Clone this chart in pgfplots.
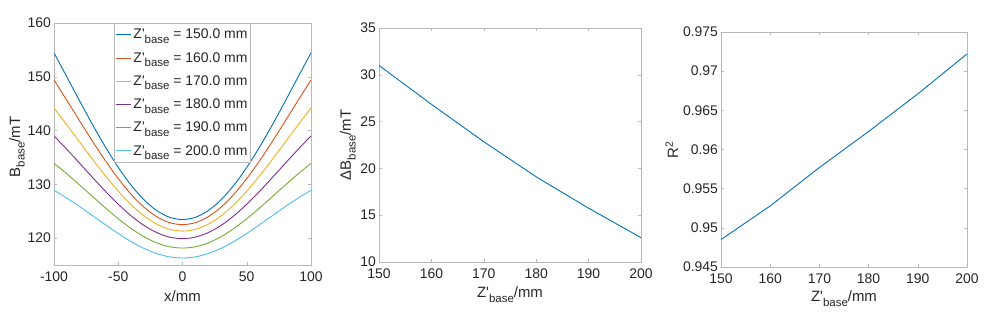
\documentclass[border=0pt]{standalone}
\usepackage{pgfplots}
\pgfplotsset{compat=1.18}
\usepackage{fontspec}
\setmainfont{Liberation Sans}
\definecolor{c1}{rgb}{0,0.447,0.741}
\definecolor{c2}{rgb}{0.85,0.325,0.098}
\definecolor{c3}{rgb}{0.929,0.694,0.125}
\definecolor{c4}{rgb}{0.494,0.184,0.556}
\definecolor{c5}{rgb}{0.466,0.674,0.188}
\definecolor{c6}{rgb}{0.301,0.745,0.933}
\definecolor{axgray}{gray}{0.72}
\definecolor{txt}{gray}{0.15}
\newcommand{\sub}[1]{\raisebox{-0.6ex}{\fontsize{11.5}{11.5}\selectfont #1}}
\newcommand{\zb}{Z\textquotesingle\sub{base}}
\pgfplotsset{
  mystyle/.style={
    scale only axis,
    axis line style={axgray},
    every tick/.style={axgray},
    major tick length=3bp,
    tick align=inside,
    font=\fontsize{14}{14}\selectfont\color{txt},
    /pgf/number format/assume math mode=true,
    xticklabel style={yshift=-3bp},
    yticklabel style={xshift=0.5bp},
    xlabel style={font=\fontsize{15}{15}\selectfont\color{txt}, anchor=base},
    ylabel style={font=\fontsize{15}{15}\selectfont\color{txt}, anchor=base},
    every axis plot/.append style={line width=0.9bp},
  }
}
\begin{document}
\begin{tikzpicture}
\useasboundingbox (0,0) rectangle (1000bp,314bp);
% ---------------- plot 1
\begin{axis}[mystyle,
  at={(54bp,49bp)}, anchor=south west,
  width=257bp, height=242bp,
  xmin=-100, xmax=100, ymin=115, ymax=160,
  xtick={-100,-50,0,50,100},
  ytick={120,130,140,150,160},
  xlabel={x/mm},
  xlabel style={at={(axis description cs:0.5,-0.1529)}},
  ylabel={B\sub{base}/mT},
  ylabel style={at={(axis description cs:-0.1323,0.4876)}},
  legend style={at={(0.5,1)}, anchor=north, draw=axgray, fill=white,
    font=\fontsize{14}{14}\selectfont\color{txt},
    row sep=8bp, inner xsep=1bp, inner ysep=4bp},
  legend cell align=left,
  legend image post style={line width=0.9bp},
  legend image code/.code={\draw[#1] (0bp,0bp) -- (15bp,0bp);},
]
\addplot[c1, smooth] coordinates {
(-100,154.45) (-90,149.98) (-80,145.49) (-70,141.10) (-60,136.95) (-50,133.15) (-40,129.83) (-30,127.12) (-20,125.11) (-10,123.87) (0,123.45)
(10,123.87) (20,125.11) (30,127.12) (40,129.83) (50,133.15) (60,136.95) (70,141.10) (80,145.49) (90,149.98) (100,154.45)};
\addlegendentry{\zb{} = 150.0 mm}
\addplot[c2, smooth] coordinates {
(-100,149.40) (-90,145.62) (-80,141.78) (-70,138.00) (-60,134.39) (-50,131.07) (-40,128.15) (-30,125.76) (-20,123.97) (-10,122.87) (0,122.50)
(10,122.87) (20,123.97) (30,125.76) (40,128.15) (50,131.07) (60,134.39) (70,138.00) (80,141.78) (90,145.62) (100,149.40)};
\addlegendentry{\zb{} = 160.0 mm}
\addplot[c3, smooth] coordinates {
(-100,144.20) (-90,141.07) (-80,137.86) (-70,134.66) (-60,131.59) (-50,128.73) (-40,126.22) (-30,124.14) (-20,122.59) (-10,121.63) (0,121.30)
(10,121.63) (20,122.59) (30,124.14) (40,126.22) (50,128.73) (60,131.59) (70,134.66) (80,137.86) (90,141.07) (100,144.20)};
\addlegendentry{\zb{} = 170.0 mm}
\addplot[c4, smooth] coordinates {
(-100,139.00) (-90,136.51) (-80,133.91) (-70,131.28) (-60,128.71) (-50,126.30) (-40,124.15) (-30,122.36) (-20,121.02) (-10,120.18) (0,119.90)
(10,120.18) (20,121.02) (30,122.36) (40,124.15) (50,126.30) (60,128.71) (70,131.28) (80,133.91) (90,136.51) (100,139.00)};
\addlegendentry{\zb{} = 180.0 mm}
\addplot[c5, smooth] coordinates {
(-100,133.90) (-90,131.95) (-80,129.87) (-70,127.73) (-60,125.61) (-50,123.60) (-40,121.79) (-30,120.26) (-20,119.11) (-10,118.39) (0,118.15)
(10,118.39) (20,119.11) (30,120.26) (40,121.79) (50,123.60) (60,125.61) (70,127.73) (80,129.87) (90,131.95) (100,133.90)};
\addlegendentry{\zb{} = 190.0 mm}
\addplot[c6, smooth] coordinates {
(-100,128.90) (-90,127.44) (-80,125.86) (-70,124.18) (-60,122.49) (-50,120.85) (-40,119.36) (-30,118.09) (-20,117.12) (-10,116.51) (0,116.30)
(10,116.51) (20,117.12) (30,118.09) (40,119.36) (50,120.85) (60,122.49) (70,124.18) (80,125.86) (90,127.44) (100,128.90)};
\addlegendentry{\zb{} = 200.0 mm}
\end{axis}
% ---------------- plot 2
\begin{axis}[mystyle,
  at={(379bp,52bp)}, anchor=south west,
  width=262bp, height=234bp,
  xmin=150, xmax=200, ymin=10, ymax=35,
  xtick={150,160,170,180,190,200},
  ytick={10,15,20,25,30,35},
  xlabel={\zb/mm},
  xlabel style={at={(axis description cs:0.5,-0.1538)}},
  ylabel={ΔB\sub{base}/mT},
  ylabel style={at={(axis description cs:-0.1069,0.5)}},
]
\addplot[c1] coordinates {(150,31.0) (160,26.85) (170,22.85) (180,19.1) (190,15.75) (200,12.6)};
\end{axis}
% ---------------- plot 3
\begin{axis}[mystyle,
  at={(721bp,47bp)}, anchor=south west,
  width=246bp, height=235bp,
  xmin=150, xmax=200, ymin=0.945, ymax=0.975,
  xtick={150,160,170,180,190,200},
  ytick={0.945,0.95,0.955,0.96,0.965,0.97,0.975},
  yticklabels={0.945,0.95,0.955,0.96,0.965,0.97,0.975},
  xlabel={\zb/mm},
  xlabel style={at={(axis description cs:0.5,-0.1489)}},
  ylabel={R\textsuperscript{2}},
  ylabel style={at={(axis description cs:-0.1748,0.5)}},
]
\addplot[c1] coordinates {(150,0.9485) (160,0.9528) (170,0.9577) (180,0.9623) (190,0.9671) (200,0.9722)};
\end{axis}
\end{tikzpicture}
\end{document}
